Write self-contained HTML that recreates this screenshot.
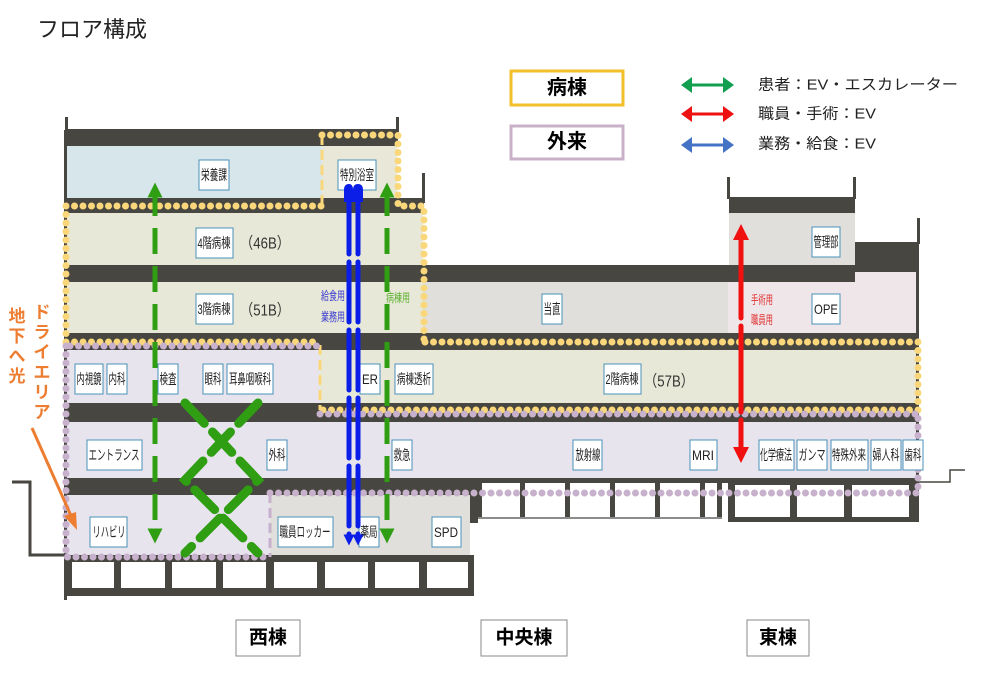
<!DOCTYPE html>
<html><head><meta charset="utf-8"><style>
html,body{margin:0;padding:0;background:#fff;}
svg{display:block;font-family:"Liberation Sans","Noto Sans CJK JP",sans-serif;}
.lb{fill:#fff;stroke:#4a90b8;stroke-width:1;}
.t{font-size:14px;fill:#222;text-anchor:middle;dominant-baseline:central;}
.yd{fill:none;stroke:#f9d77a;stroke-width:7;stroke-linecap:round;stroke-dasharray:0 8.5;}
.pd{fill:none;stroke:#c8b1cc;stroke-width:7;stroke-linecap:round;stroke-dasharray:0 8.5;}
.ydash{fill:none;stroke:#f9d77a;stroke-width:3;stroke-dasharray:10 5;}
.pdash{fill:none;stroke:#c8b1cc;stroke-width:3;stroke-dasharray:10 5;}
.dk{fill:#474641;}
</style></head><body>
<svg width="981" height="674" viewBox="0 0 981 674">
<defs>
<marker id="gh" viewBox="0 0 10 10" refX="5" refY="5" markerWidth="3" markerHeight="5" orient="auto-start-reverse"><path d="M0,0L10,5L0,10z" fill="#2f9e12"/></marker>
<marker id="bh" viewBox="0 0 10 10" refX="5" refY="5" markerWidth="2.2" markerHeight="3.5" orient="auto-start-reverse"><path d="M0,0L10,5L0,10z" fill="#0a1ee8"/></marker>
<marker id="rh" viewBox="0 0 10 10" refX="5" refY="5" markerWidth="3.2" markerHeight="4.5" orient="auto-start-reverse"><path d="M0,0L10,5L0,10z" fill="#f01010"/></marker>
</defs>
<text x="37" y="37" font-size="22" fill="#222">フロア構成</text>

<!-- legend -->
<rect x="511" y="71" width="112" height="34" fill="#fff" stroke="#f2bf2a" stroke-width="3"/>
<text x="567" y="88" font-size="20" font-weight="bold" text-anchor="middle" dominant-baseline="central">病棟</text>
<rect x="511" y="126" width="112" height="33" fill="#fff" stroke="#c8b0c8" stroke-width="3"/>
<text x="567" y="142" font-size="20" font-weight="bold" text-anchor="middle" dominant-baseline="central">外来</text>
<g stroke-width="3">
<line x1="688" y1="85" x2="727" y2="85" stroke="#12a050"/><path d="M681,85l11,-8v16z M734,85l-11,-8v16z" fill="#12a050"/>
<line x1="688" y1="114" x2="727" y2="114" stroke="#ee1111"/><path d="M681,114l11,-8v16z M734,114l-11,-8v16z" fill="#ee1111"/>
<line x1="688" y1="145" x2="727" y2="145" stroke="#4472c4"/><path d="M681,145l11,-8v16z M734,145l-11,-8v16z" fill="#4472c4"/>
</g>
<text x="758" y="85" font-size="15" fill="#222" dominant-baseline="central" textLength="200" lengthAdjust="spacingAndGlyphs">患者：EV・エスカレーター</text>
<text x="758" y="114" font-size="15" fill="#222" dominant-baseline="central" textLength="118" lengthAdjust="spacingAndGlyphs">職員・手術：EV</text>
<text x="758" y="144" font-size="15" fill="#222" dominant-baseline="central" textLength="118" lengthAdjust="spacingAndGlyphs">業務・給食：EV</text>

<!-- building fills -->
<rect x="66" y="146" width="256" height="52" fill="#d6e6ea"/>
<rect x="322" y="146" width="75" height="52" fill="#e9e8d8"/>
<rect x="66" y="213" width="357" height="52" fill="#e8e8d8"/>
<rect x="66" y="282" width="357" height="51" fill="#e8e8d8"/>
<rect x="423" y="282" width="305" height="51" fill="#e0dfdc"/>
<rect x="728" y="272" width="190" height="61" fill="#efe6ea"/>
<rect x="729" y="213" width="126" height="52" fill="#e0dfdc"/>
<rect x="66" y="350" width="254" height="53" fill="#e8e4ee"/>
<rect x="320" y="350" width="598" height="53" fill="#e8e8d8"/>
<rect x="66" y="422" width="852" height="56" fill="#e8e4ee"/>
<rect x="66" y="495" width="204" height="60" fill="#e8e4ee"/>
<rect x="270" y="495" width="200" height="60" fill="#e0dfdc"/>

<!-- slabs -->
<rect class="dk" x="66" y="129" width="332" height="17"/>
<rect class="dk" x="66" y="198" width="358" height="15"/>
<rect class="dk" x="66" y="265" width="789" height="17"/>
<rect class="dk" x="729" y="197" width="126" height="16"/>
<rect class="dk" x="855" y="242" width="64" height="30"/>
<rect class="dk" x="66" y="333" width="853" height="17"/>
<rect class="dk" x="66" y="403" width="853" height="19"/>
<rect class="dk" x="66" y="478" width="404" height="17"/>
<rect class="dk" x="470" y="478" width="449" height="5"/>
<rect class="dk" x="66" y="555" width="408" height="41"/>
<rect class="dk" x="728" y="483" width="191" height="39"/>
<g class="dk">
<rect x="65" y="117" width="3" height="15"/><rect x="396" y="117" width="3" height="15"/>
<rect x="422" y="173" width="3" height="30"/>
<rect x="727" y="177" width="3" height="22"/><rect x="853" y="177" width="3" height="22"/>
<rect x="917" y="218" width="3" height="26"/>
<rect x="64" y="130" width="3" height="470"/>
<rect x="916" y="270" width="3" height="210"/>
<rect x="470" y="483" width="8" height="40"/>
</g>
<g fill="#fff">
<rect x="72" y="562" width="42" height="26"/><rect x="121" y="562" width="44" height="26"/><rect x="172" y="562" width="44" height="26"/><rect x="223" y="562" width="43" height="26"/><rect x="274" y="562" width="43" height="26"/><rect x="325" y="562" width="43" height="26"/><rect x="375" y="562" width="44" height="26"/><rect x="427" y="562" width="41" height="26"/>
<rect x="735" y="485" width="55" height="32"/><rect x="797" y="485" width="47" height="32"/><rect x="852" y="485" width="57" height="32"/>
</g>
<g class="dk">
<rect x="478" y="483" width="4" height="34"/><rect x="520" y="483" width="5" height="34"/><rect x="565" y="483" width="5" height="34"/><rect x="610" y="483" width="5" height="34"/><rect x="655" y="483" width="5" height="34"/><rect x="700" y="483" width="5" height="34"/><rect x="717" y="483" width="5" height="34"/>
</g>
<line x1="478" y1="518" x2="722" y2="518" stroke="#666" stroke-width="1.5"/>
<path d="M12,482H30V555H66" fill="none" stroke="#474641" stroke-width="3"/>
<path d="M919,482H950V470H965" fill="none" stroke="#474641" stroke-width="1.5"/>

<!-- dotted borders -->
<path class="yd" d="M66,342V206H322 M322,135H398V206H424V342 M425,342H918V410H320 M66,342H320"/>
<line class="ydash" x1="322" y1="135" x2="322" y2="206"/>
<line class="ydash" x1="320" y1="345" x2="320" y2="410"/>
<path class="pd" d="M66,346V557H270 M270,493H918V414 M320,414H918 M70,346H318"/>
<line class="pdash" x1="270" y1="493" x2="270" y2="557"/>

<!-- labels -->
<g>
<rect class="lb" x="199" y="160" width="30" height="30"/><text class="t" x="214" y="175" textLength="26" lengthAdjust="spacingAndGlyphs">栄養課</text>
<rect class="lb" x="338" y="160" width="38" height="30"/><text class="t" x="357" y="175" textLength="34" lengthAdjust="spacingAndGlyphs">特別浴室</text>
<rect class="lb" x="196" y="228" width="37" height="30"/><text class="t" x="214" y="243" textLength="33" lengthAdjust="spacingAndGlyphs">4階病棟</text>
<text x="240" y="244" font-size="16" fill="#333" dominant-baseline="central" textLength="50" lengthAdjust="spacingAndGlyphs">（46B）</text>
<rect class="lb" x="196" y="294" width="37" height="30"/><text class="t" x="214" y="309" textLength="33" lengthAdjust="spacingAndGlyphs">3階病棟</text>
<text x="240" y="311" font-size="16" fill="#333" dominant-baseline="central" textLength="50" lengthAdjust="spacingAndGlyphs">（51B）</text>
<rect class="lb" x="75" y="364" width="28" height="30"/><text class="t" x="89" y="379" textLength="25" lengthAdjust="spacingAndGlyphs">内視鏡</text>
<rect class="lb" x="107" y="364" width="20" height="30"/><text class="t" x="117" y="379" textLength="17" lengthAdjust="spacingAndGlyphs">内科</text>
<rect class="lb" x="158" y="364" width="20" height="30"/><text class="t" x="168" y="379" textLength="17" lengthAdjust="spacingAndGlyphs">検査</text>
<rect class="lb" x="203" y="364" width="20" height="30"/><text class="t" x="213" y="379" textLength="17" lengthAdjust="spacingAndGlyphs">眼科</text>
<rect class="lb" x="227" y="364" width="46" height="30"/><text class="t" x="250" y="379" textLength="42" lengthAdjust="spacingAndGlyphs">耳鼻咽喉科</text>
<rect class="lb" x="360" y="364" width="20" height="30"/><text class="t" x="370" y="379" textLength="16" lengthAdjust="spacingAndGlyphs">ER</text>
<rect class="lb" x="395" y="364" width="38" height="30"/><text class="t" x="414" y="379" textLength="34" lengthAdjust="spacingAndGlyphs">病棟透析</text>
<rect class="lb" x="604" y="364" width="37" height="30"/><text class="t" x="622" y="379" textLength="33" lengthAdjust="spacingAndGlyphs">2階病棟</text>
<text x="644" y="382" font-size="16" fill="#333" dominant-baseline="central" textLength="50" lengthAdjust="spacingAndGlyphs">（57B）</text>
<rect class="lb" x="87" y="440" width="55" height="30"/><text class="t" x="114" y="455" textLength="51" lengthAdjust="spacingAndGlyphs">エントランス</text>
<rect class="lb" x="267" y="440" width="20" height="30"/><text class="t" x="277" y="455" textLength="17" lengthAdjust="spacingAndGlyphs">外科</text>
<rect class="lb" x="392" y="440" width="20" height="30"/><text class="t" x="402" y="455" textLength="17" lengthAdjust="spacingAndGlyphs">救急</text>
<rect class="lb" x="573" y="440" width="29" height="30"/><text class="t" x="588" y="455" textLength="25" lengthAdjust="spacingAndGlyphs">放射線</text>
<rect class="lb" x="690" y="440" width="27" height="30"/><text class="t" x="703" y="455" textLength="22" lengthAdjust="spacingAndGlyphs">MRI</text>
<rect class="lb" x="759" y="440" width="35" height="30"/><text class="t" x="776" y="455" textLength="32" lengthAdjust="spacingAndGlyphs">化学療法</text>
<rect class="lb" x="797" y="440" width="30" height="30"/><text class="t" x="812" y="455" textLength="27" lengthAdjust="spacingAndGlyphs">ガンマ</text>
<rect class="lb" x="831" y="440" width="37" height="30"/><text class="t" x="849" y="455" textLength="34" lengthAdjust="spacingAndGlyphs">特殊外来</text>
<rect class="lb" x="871" y="440" width="30" height="30"/><text class="t" x="886" y="455" textLength="27" lengthAdjust="spacingAndGlyphs">婦人科</text>
<rect class="lb" x="903" y="440" width="20" height="30"/><text class="t" x="913" y="455" textLength="17" lengthAdjust="spacingAndGlyphs">歯科</text>
<rect class="lb" x="90" y="517" width="37" height="30"/><text class="t" x="109" y="532" textLength="33" lengthAdjust="spacingAndGlyphs">リハビリ</text>
<rect class="lb" x="278" y="517" width="55" height="30"/><text class="t" x="305" y="532" textLength="51" lengthAdjust="spacingAndGlyphs">職員ロッカー</text>
<rect class="lb" x="359" y="517" width="20" height="30"/><text class="t" x="369" y="532" textLength="17" lengthAdjust="spacingAndGlyphs">薬局</text>
<rect class="lb" x="432" y="517" width="29" height="30"/><text class="t" x="446" y="532" textLength="24" lengthAdjust="spacingAndGlyphs">SPD</text>
<rect class="lb" x="542" y="294" width="20" height="30"/><text class="t" x="552" y="309" textLength="17" lengthAdjust="spacingAndGlyphs">当直</text>
<rect class="lb" x="812" y="227" width="28" height="30"/><text class="t" x="826" y="242" textLength="25" lengthAdjust="spacingAndGlyphs">管理部</text>
<rect class="lb" x="812" y="294" width="28" height="30"/><text class="t" x="826" y="309" textLength="24" lengthAdjust="spacingAndGlyphs">OPE</text>
</g>
<g font-size="12" text-anchor="middle" dominant-baseline="central">
<text x="333" y="296" fill="#3a3ad0" textLength="24" lengthAdjust="spacingAndGlyphs">給食用</text>
<text x="333" y="317" fill="#3a3ad0" textLength="24" lengthAdjust="spacingAndGlyphs">業務用</text>
<text x="398" y="298" fill="#5cb030" textLength="24" lengthAdjust="spacingAndGlyphs">病棟用</text>
<text x="762" y="300" fill="#e03030" textLength="22" lengthAdjust="spacingAndGlyphs">手術用</text>
<text x="762" y="320" fill="#e03030" textLength="22" lengthAdjust="spacingAndGlyphs">職員用</text>
</g>

<!-- arrows -->
<g stroke="#2f9e12" stroke-width="5" fill="none">
<line x1="155" y1="190" x2="155" y2="536" stroke-dasharray="26 12" marker-start="url(#gh)" marker-end="url(#gh)"/>
<line x1="387" y1="190" x2="387" y2="536" stroke-dasharray="26 12" marker-start="url(#gh)" marker-end="url(#gh)"/>
</g>
<g stroke="#2f9e12" stroke-width="9" fill="none" stroke-linecap="round" stroke-dasharray="28 12">
<path d="M185,403L258,480L185,553"/>
<path d="M258,403L185,480L258,553"/>
</g>
<g stroke="#0a1ee8" stroke-width="5" fill="none" stroke-linecap="round" stroke-dasharray="60 8">
<line x1="349" y1="194" x2="349" y2="540" marker-end="url(#bh)"/>
<line x1="358" y1="194" x2="358" y2="540" marker-end="url(#bh)"/>
</g>
<path d="M344,202V190q0,-6 5,-6q4,0 4,6q0,-6 5,-6q5,0 5,6V202z" fill="#0a1ee8"/>
<line x1="741" y1="232" x2="741" y2="455" stroke="#f01010" stroke-width="5" stroke-linecap="round" stroke-dasharray="86 8" marker-start="url(#rh)" marker-end="url(#rh)"/>

<!-- dry area -->
<g font-size="17" font-weight="bold" fill="#ed7d31" text-anchor="middle">
<text x="42" y="318">ド</text><text x="42" y="338">ラ</text><text x="42" y="358">イ</text><text x="42" y="378">エ</text><text x="42" y="398">リ</text><text x="42" y="418">ア</text>
<text x="17" y="322">地</text><text x="17" y="342">下</text><text x="17" y="362">へ</text><text x="17" y="382">光</text>
</g>
<line x1="32" y1="428" x2="72" y2="518" stroke="#ed7d31" stroke-width="3"/>
<path d="M77,530L64,516L76,512z" fill="#ed7d31"/>

<!-- building names -->
<rect x="236" y="620" width="64" height="36" fill="#fff" stroke="#888"/>
<text x="268" y="638" font-size="19" font-weight="bold" text-anchor="middle" dominant-baseline="central">西棟</text>
<rect x="481" y="620" width="86" height="36" fill="#fff" stroke="#888"/>
<text x="524" y="638" font-size="19" font-weight="bold" text-anchor="middle" dominant-baseline="central">中央棟</text>
<rect x="747" y="620" width="62" height="36" fill="#fff" stroke="#888"/>
<text x="778" y="638" font-size="19" font-weight="bold" text-anchor="middle" dominant-baseline="central">東棟</text>
</svg>
</body></html>
